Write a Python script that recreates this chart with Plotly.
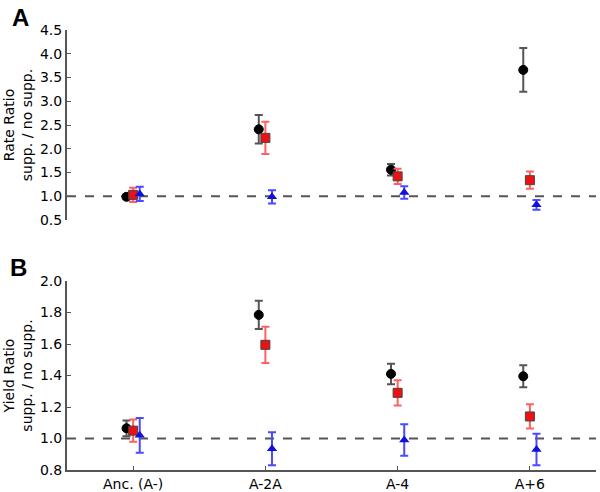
import plotly.graph_objects as go

categories = ["Anc. (A-)", "A-2A", "A-4", "A+6"]

# Panel A: Rate ratio
rate_black = [0.99, 2.41, 1.56, 3.66]
rate_black_err = [0.05, 0.30, 0.12, 0.46]
rate_red = [1.03, 2.23, 1.42, 1.34]
rate_red_err = [0.15, 0.34, 0.16, 0.18]
rate_blue = [1.05, 0.99, 1.08, 0.82]
rate_blue_err = [0.15, 0.14, 0.13, 0.10]

# Panel B: Yield ratio
yield_black = [1.065, 1.785, 1.41, 1.395]
yield_black_err = [0.05, 0.09, 0.065, 0.07]
yield_red = [1.05, 1.595, 1.29, 1.14]
yield_red_err = [0.07, 0.115, 0.08, 0.077]
yield_blue = [1.02, 0.935, 0.99, 0.93]
yield_blue_err = [0.11, 0.105, 0.10, 0.10]

idx = list(range(len(categories)))
offsets = [-0.05, 0.0, 0.05]

series_style = [
    dict(symbol="circle", color="black", line=dict(color="black", width=1), size=9, err="#555555"),
    dict(symbol="square", color="#ee1111", line=dict(color="#444444", width=1), size=9, err="#ff6060"),
    dict(symbol="triangle-up", color="#1010dd", line=dict(color="#1010dd", width=0), size=9, err="#4a4aff"),
]

fig = go.Figure()

panels = [
    ("x", "y", [(rate_black, rate_black_err), (rate_red, rate_red_err), (rate_blue, rate_blue_err)]),
    ("x2", "y2", [(yield_black, yield_black_err), (yield_red, yield_red_err), (yield_blue, yield_blue_err)]),
]

for xa, ya, data in panels:
    for k, (vals, errs) in enumerate(data):
        st = series_style[k]
        fig.add_trace(go.Scatter(
            x=[i + offsets[k] for i in idx], y=vals,
            mode="markers",
            marker=dict(symbol=st["symbol"], color=st["color"], size=st["size"], line=st["line"]),
            error_y=dict(type="data", array=errs, visible=True, color=st["err"], thickness=2, width=4),
            xaxis=xa, yaxis=ya, showlegend=False,
        ))

font = dict(family="DejaVu Sans", size=14, color="black")

axis_common = dict(showgrid=False, zeroline=False, ticks="inside", ticklen=4, tickwidth=1,
                   tickcolor="#555555", tickfont=font, automargin=False)

fig.update_layout(
    width=600, height=492,
    margin=dict(l=67, r=4, t=30, b=22),
    plot_bgcolor="white", paper_bgcolor="white",
    font=font,
    xaxis=dict(domain=[0, 1], range=[-0.5, 3.5], showline=False, showticklabels=False,
               ticks="", showgrid=False, zeroline=False, anchor="y", automargin=False),
    yaxis=dict(domain=[0.568, 1.0], range=[0.5, 4.5], dtick=0.5, tickformat=".1f",
               showline=True, linecolor="#555555", linewidth=2, anchor="x",
               title=dict(text="Rate Ratio<br>supp. / no supp.", font=font, standoff=4),
               **axis_common),
    xaxis2=dict(domain=[0, 1], range=[-0.5, 3.5], tickvals=idx, ticktext=categories,
                showline=True, linecolor="#555555", linewidth=2, anchor="y2",
                **axis_common),
    yaxis2=dict(domain=[0.0, 0.4295], range=[0.8, 2.0], dtick=0.2, tickformat=".1f",
                showline=True, linecolor="#555555", linewidth=2, anchor="x2",
                title=dict(text="Yield Ratio<br>supp. / no supp.", font=font, standoff=4),
                **axis_common),
    shapes=[
        dict(type="line", xref="x domain", yref="y", x0=0, x1=1, y0=1, y1=1,
             line=dict(color="#555555", width=2, dash="dash"), layer="below"),
        dict(type="line", xref="x2 domain", yref="y2", x0=0, x1=1, y0=1, y1=1,
             line=dict(color="#555555", width=2, dash="dash"), layer="below"),
    ],
    annotations=[
        dict(text="<b>A</b>", xref="paper", yref="paper", x=-0.108, y=1.064,
             xanchor="left", yanchor="top", showarrow=False,
             font=dict(family="Liberation Sans", size=24, color="black")),
        dict(text="<b>B</b>", xref="paper", yref="paper", x=-0.112, y=0.495,
             xanchor="left", yanchor="top", showarrow=False,
             font=dict(family="Liberation Sans", size=24, color="black")),
    ],
)

fig.write_html("out.html", config={"displayModeBar": False},
               post_script="document.body.style.margin='0';document.body.style.overflow='hidden';")
